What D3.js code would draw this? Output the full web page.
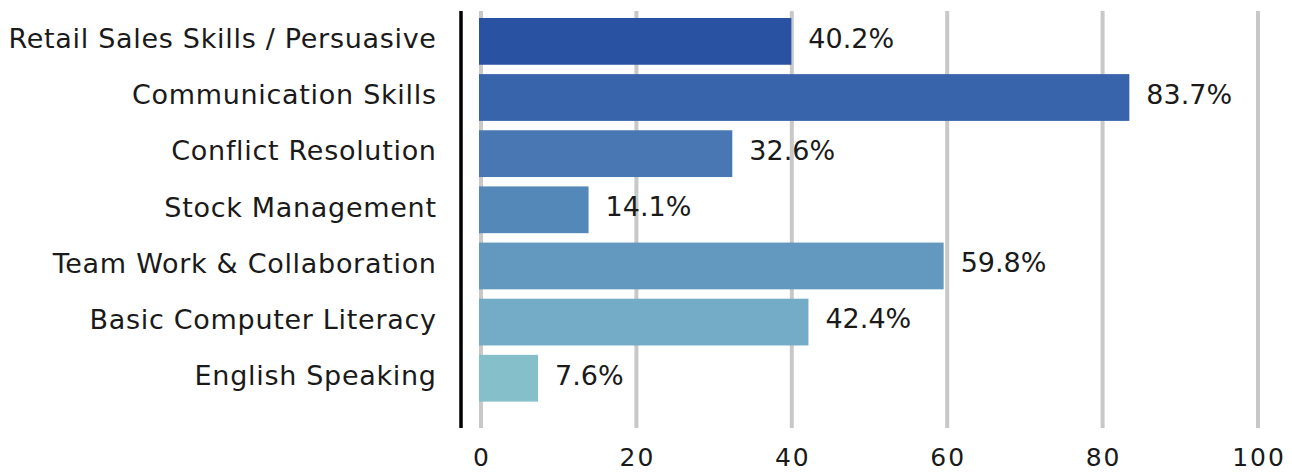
<!DOCTYPE html>
<html>
<head>
<meta charset="utf-8">
<script src="https://cdn.jsdelivr.net/npm/d3@7"></script>
<style>
  html, body { margin: 0; padding: 0; background: #fff; }
  svg text { font-family: "DejaVu Sans", sans-serif; fill: #1a1a1a; }
</style>
</head>
<body>
<svg id="chart" width="1292" height="472"></svg>
<script>
// Share of respondents naming each skill (%)
const skills = [
  "Retail Sales Skills / Persuasive",
  "Communication Skills",
  "Conflict Resolution",
  "Stock Management",
  "Team Work & Collaboration",
  "Basic Computer Literacy",
  "English Speaking"
];
const shares = [40.2, 83.7, 32.6, 14.1, 59.8, 42.4, 7.6];
const barColors = ["#2952a3", "#3764aa", "#4877b3", "#5488b8", "#6399bf", "#74abc6", "#85bfc9"];
const xTicks = [0, 20, 40, 60, 80, 100];

const rows = skills.map((s, i) => ({ skill: s, share: shares[i], color: barColors[i] }));

const svg = d3.select("#chart");

const x = d3.scaleLinear().domain([0, 100]).range([479, 1256]);
const y = d3.scaleBand().domain(skills).range([13.3, 406.3]).paddingInner(0.167).paddingOuter(0.0835);
const mid = d => y(d.skill) + y.bandwidth() / 2;

// vertical gridlines
svg.append("g").selectAll("rect").data(xTicks).join("rect")
  .attr("x", d => x(d))
  .attr("y", 11)
  .attr("width", 4)
  .attr("height", 417)
  .attr("fill", "#c8c8c8");

// bars
svg.append("g").selectAll("rect").data(rows).join("rect")
  .attr("x", x(0))
  .attr("y", d => y(d.skill))
  .attr("width", d => x(d.share) - x(0))
  .attr("height", y.bandwidth())
  .attr("fill", d => d.color);

// value labels
svg.append("g").selectAll("text").data(rows).join("text")
  .attr("x", d => x(d.share) + 17)
  .attr("y", d => mid(d) + 6.3)
  .attr("font-size", 27)
  .text(d => d.share.toFixed(1) + "%");

// category labels
svg.append("g").selectAll("text").data(rows).join("text")
  .attr("x", 436.7)
  .attr("y", d => mid(d) + 6.8)
  .attr("text-anchor", "end")
  .attr("font-size", 27)
  .attr("letter-spacing", 0.7)
  .text(d => d.skill);

// x tick labels
svg.append("g").selectAll("text").data(xTicks).join("text")
  .attr("x", d => x(d) + 3)
  .attr("y", 466)
  .attr("text-anchor", "middle")
  .attr("font-size", 25)
  .attr("letter-spacing", 2)
  .text(d => d);

// left axis line
svg.append("line")
  .attr("x1", 461).attr("x2", 461)
  .attr("y1", 11).attr("y2", 428)
  .attr("stroke", "#000")
  .attr("stroke-width", 3.5);
</script>
</body>
</html>
